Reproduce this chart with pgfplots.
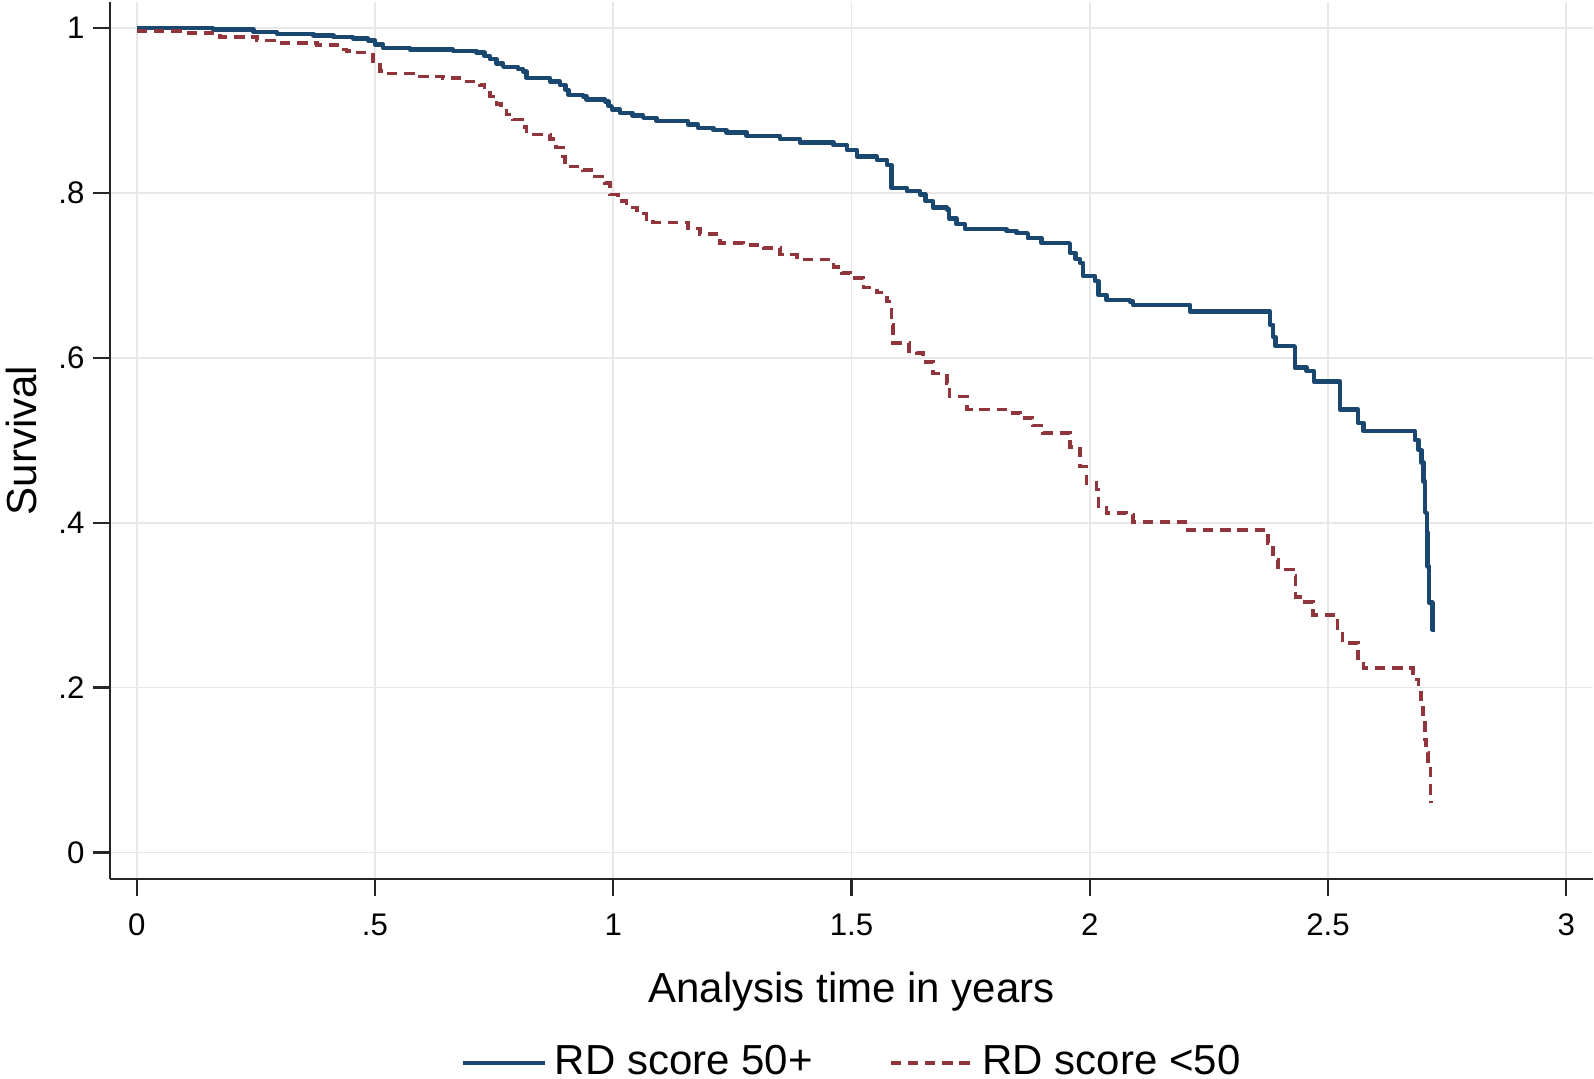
\documentclass[border=0pt]{standalone}
\usepackage{pgfplots}
\pgfplotsset{compat=1.18}
\usepackage{fontspec}
\setmainfont{Liberation Sans}
\definecolor{statablue}{RGB}{26,71,111}
\definecolor{statared}{RGB}{144,53,59}
\definecolor{gridgray}{RGB}{232,232,232}
\begin{document}
\begin{tikzpicture}
\begin{axis}[
  name=ax,
  scale only axis,
  width=370.75pt, height=219.25pt,
  xmin=-0.056, xmax=3.056,
  ymin=-0.0322, ymax=1.0315,
  axis x line*=bottom, axis y line*=left,
  axis line style={black!85, line width=0.65pt, -},
  xtick={0,0.5,1,1.5,2,2.5,3},
  xticklabels={0,.5,1,1.5,2,2.5,3},
  ytick={0,0.2,0.4,0.6,0.8,1},
  yticklabels={0,.2,.4,.6,.8,1},
  tick align=outside,
  major tick length=4.25pt,
  major tick style={black!85, line width=0.55pt},
  grid=major,
  major grid style={gridgray, line width=0.45pt},
  tick label style={font=\fontsize{7.8}{9}\selectfont},
  xticklabel style={anchor=north, yshift=-1pt},
  yticklabel style={anchor=east, xshift=1.4pt},
  xlabel={Analysis time in years},
  ylabel={Survival},
  label style={font=\fontsize{10.5}{12}\selectfont},
  xlabel style={at={(axis description cs:0.5,-0.1404)}, anchor=base},
  ylabel style={at={(axis description cs:-0.0499,0.5)}, anchor=base, rotate=0},
  legend columns=2,
  legend style={at={(axis description cs:0.502,-0.2096)}, anchor=center, draw=none, fill=none,
    font=\fontsize{10.5}{12}\selectfont, column sep=0pt},
  legend image code/.code={\draw[#1] (0pt,0pt) -- (20.5pt,0pt);},
  /tikz/every even column/.append style={column sep=17pt},
  clip=false,
]
\addplot[const plot, statablue, line width=1.1pt, line join=round] coordinates {
(0,1.0) (0.16,0.998) (0.245,0.995) (0.294,0.993) (0.371,0.991) (0.413,0.989)
(0.454,0.987) (0.486,0.985) (0.50,0.980) (0.517,0.976) (0.573,0.974) (0.664,0.972)
(0.713,0.970) (0.73,0.966) (0.741,0.962) (0.755,0.957) (0.769,0.953) (0.80,0.950)
(0.811,0.947) (0.818,0.939) (0.867,0.935) (0.888,0.931) (0.90,0.925) (0.906,0.919)
(0.937,0.917) (0.944,0.913) (0.983,0.911) (0.99,0.905) (0.997,0.901) (1.014,0.897)
(1.04,0.894) (1.063,0.891) (1.091,0.887) (1.157,0.883) (1.178,0.879) (1.21,0.876)
(1.238,0.873) (1.280,0.869) (1.35,0.865) (1.392,0.861) (1.462,0.858) (1.49,0.852)
(1.511,0.844) (1.553,0.840) (1.574,0.834) (1.584,0.806) (1.616,0.802) (1.644,0.798)
(1.655,0.790) (1.671,0.782) (1.70,0.780) (1.705,0.769) (1.72,0.762) (1.738,0.756)
(1.825,0.754) (1.846,0.751) (1.87,0.745) (1.899,0.739) (1.958,0.727) (1.97,0.72)
(1.979,0.715) (1.986,0.699) (2.011,0.693) (2.018,0.676) (2.035,0.670) (2.084,0.668)
(2.091,0.664) (2.210,0.656) (2.378,0.640) (2.385,0.625) (2.39,0.614) (2.43,0.588)
(2.455,0.584) (2.47,0.571) (2.525,0.537) (2.563,0.521) (2.574,0.511) (2.682,0.500)
(2.69,0.488) (2.696,0.473) (2.700,0.45) (2.704,0.412) (2.707,0.388) (2.709,0.347)
(2.712,0.303) (2.719,0.270) (2.724,0.270)
};
\addlegendentry{RD score 50+}
\addplot[const plot, statared, line width=0.9pt, dash pattern=on 2.6pt off 1.7pt] coordinates {
(0,0.996) (0.091,0.994) (0.175,0.989) (0.252,0.985) (0.297,0.982) (0.378,0.979)
(0.427,0.974) (0.44,0.972) (0.454,0.970) (0.496,0.955) (0.51,0.948) (0.525,0.945)
(0.594,0.941) (0.643,0.939) (0.692,0.935) (0.720,0.931) (0.73,0.925) (0.741,0.917)
(0.755,0.908) (0.765,0.900) (0.776,0.895) (0.79,0.889) (0.808,0.880) (0.818,0.871)
(0.867,0.865) (0.88,0.855) (0.895,0.844) (0.899,0.832) (0.937,0.828) (0.962,0.820)
(0.983,0.812) (0.993,0.798) (1.01,0.790) (1.028,0.782) (1.05,0.775) (1.07,0.768)
(1.084,0.764) (1.157,0.757) (1.182,0.750) (1.224,0.739) (1.273,0.737) (1.315,0.733)
(1.350,0.725) (1.385,0.719) (1.462,0.710) (1.48,0.703) (1.497,0.697) (1.525,0.685)
(1.553,0.679) (1.574,0.668) (1.584,0.640) (1.587,0.618) (1.621,0.608) (1.636,0.606)
(1.65,0.595) (1.671,0.581) (1.700,0.569) (1.706,0.553) (1.742,0.537) (1.832,0.533)
(1.853,0.527) (1.88,0.518) (1.902,0.509) (1.958,0.492) (1.979,0.468) (1.993,0.448)
(2.014,0.440) (2.018,0.420) (2.035,0.412) (2.077,0.410) (2.091,0.401) (2.205,0.391)
(2.374,0.375) (2.385,0.355) (2.395,0.343) (2.427,0.335) (2.432,0.310) (2.451,0.304)
(2.469,0.288) (2.52,0.270) (2.53,0.254) (2.563,0.235) (2.574,0.224) (2.678,0.210)
(2.69,0.199) (2.695,0.180) (2.699,0.160) (2.703,0.137) (2.706,0.121) (2.710,0.104)
(2.715,0.064) (2.716,0.060)
};
\addlegendentry{RD score <50}
\end{axis}
\pgfresetboundingbox
\path ([xshift=-27.5pt,yshift=-50pt]ax.south west) rectangle ([xshift=0.25pt,yshift=0.5pt]ax.north east);
\end{tikzpicture}
\end{document}
